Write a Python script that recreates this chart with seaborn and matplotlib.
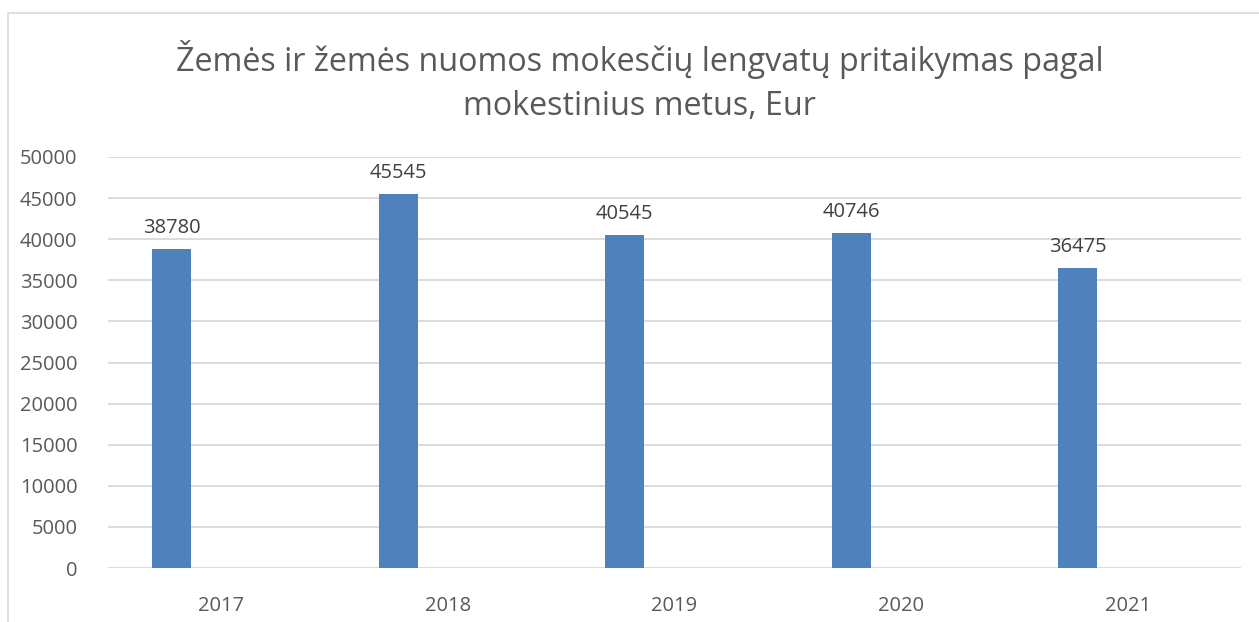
import matplotlib
matplotlib.use("Agg")
import matplotlib.pyplot as plt
import seaborn as sns
import pandas as pd
from matplotlib.patches import Rectangle

years = ["2017", "2018", "2019", "2020", "2021"]
values = [38780, 45545, 40545, 40746, 36475]
title = "Žemės ir žemės nuomos mokesčių lengvatų pritaikymas pagal\nmokestinius metus, Eur"
yticks = [0, 5000, 10000, 15000, 20000, 25000, 30000, 35000, 40000, 45000, 50000]

sns.set_theme(style="white")
plt.rcParams["font.family"] = ["Open Sans", "DejaVu Sans"]

W, H = 1259, 622
fig = plt.figure(figsize=(W / 100, H / 100), dpi=100)
fig.patch.set_facecolor("white")

ax = fig.add_axes([108 / W, 1 - 568 / H, (1241 - 108) / W, (568 - 157) / H])
df = pd.DataFrame({"year": years, "value": values})
sns.barplot(data=df, x="year", y="value", color="#4F81BD", saturation=1,
            width=0.172, ax=ax, errorbar=None)

shift = -0.22
for p in ax.patches:
    p.set_x(p.get_x() + shift)
    p.set_linewidth(0)

ax.set_xlim(-0.5, len(years) - 0.5)
ax.set_ylim(0, 50000)
ax.set_yticks(yticks)
ax.set_yticklabels([str(v) for v in yticks])
ax.grid(axis="y", color="#d9d9d9", linewidth=1.3)
ax.grid(axis="x", visible=False)
ax.set_axisbelow(True)
for s in ax.spines.values():
    s.set_visible(False)
ax.set_xlabel("")
ax.set_ylabel("")
ax.tick_params(axis="both", length=0, labelsize=14.5, colors="#595959")
ax.tick_params(axis="y", pad=22)
ax.tick_params(axis="x", pad=20)

for p, v in zip(ax.patches, values):
    ax.annotate(str(v), (p.get_x() + p.get_width() / 2, v), xytext=(0, 8),
                textcoords="offset points", ha="center", va="bottom",
                fontsize=14.5, color="#404040")

fig.text(639.5 / W, 1 - 81.5 / H, title, ha="center", va="center",
         fontsize=23.2, color="#595959", linespacing=1.45)

fig.patches.append(Rectangle((7.5 / W, -0.1), 1.2, (622 - 13) / H + 0.1,
                             transform=fig.transFigure, fill=False,
                             edgecolor="#d9d9d9", linewidth=1.2))

fig.savefig("out.png", dpi=100)
